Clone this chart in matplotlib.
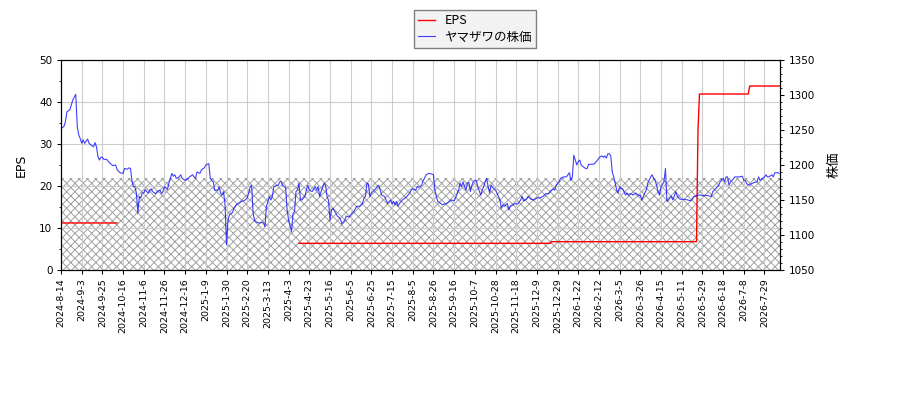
import numpy as np
import matplotlib
matplotlib.use("Agg")
import matplotlib.pyplot as plt
from matplotlib.ticker import MultipleLocator

plt.rcParams['font.family'] = ['DejaVu Sans', 'Noto Sans CJK JP']
plt.rcParams['hatch.color'] = '#a0a0a0'
plt.rcParams['hatch.linewidth'] = 0.7

# ---- data ----
tick_labels = [
    "2024-8-14", "2024-9-3", "2024-9-25", "2024-10-16", "2024-11-6", "2024-11-26",
    "2024-12-16", "2025-1-9", "2025-1-30", "2025-2-20", "2025-3-13", "2025-4-3",
    "2025-4-23", "2025-5-16", "2025-6-5", "2025-6-25", "2025-7-15", "2025-8-5",
    "2025-8-26", "2025-9-16", "2025-10-7", "2025-10-28", "2025-11-18", "2025-12-9",
    "2025-12-29", "2026-1-22", "2026-2-12", "2026-3-5", "2026-3-26", "2026-4-15",
    "2026-5-11", "2026-5-29", "2026-6-18", "2026-7-8", "2026-7-29",
]
tick_step = 14  # trading days between labelled ticks

eps_day = [0, 38, 39, 161, 331, 332, 430, 431, 432, 465, 466, 486]
eps_value = [11.2, 11.2, np.nan, 6.35, 6.35, 6.74, 6.74, 33.0, 41.9, 41.9, 43.8, 43.8]

hatch_level = 22.0

price_day = [
    0, 2, 3, 4, 6, 7, 8, 10, 11, 12, 13, 14, 15, 16, 18, 19, 20, 22, 23, 24,
    25, 26, 27, 28, 29, 31, 32, 34, 35, 37, 38, 40, 42, 43, 45, 46, 47, 48, 49, 50,
    51, 52, 53, 54, 55, 56, 57, 58, 59, 60, 61, 62, 64, 65, 67, 68, 69, 70, 72, 73,
    74, 75, 76, 77, 78, 80, 81, 82, 84, 86, 87, 89, 90, 91, 92, 94, 95, 97, 98, 100,
    101, 102, 103, 104, 106, 107, 108, 109, 110, 111, 112, 113, 114, 116, 117, 119, 121, 122, 124, 126,
    127, 128, 129, 130, 131, 132, 134, 136, 137, 138, 139, 140, 141, 142, 143, 144, 146, 147,
    148, 149, 150, 151, 152, 153, 154, 156, 157, 158, 159, 160, 161, 162, 163, 165, 166, 167, 168, 170,
    171, 172, 173, 174, 175, 176, 178, 179, 180, 181, 182, 183, 184, 186, 187, 189, 190, 192, 193, 195,
    197, 198, 200, 202, 204, 205, 206, 207, 208, 209, 210, 212, 214, 215, 216, 217, 219, 220, 221, 223,
    224, 225, 226, 227, 228, 229, 231, 233, 234, 236, 237, 238, 240, 241, 242, 244, 245, 246, 247, 249,
    251, 252, 253, 254, 255, 257, 258, 259, 261, 263, 264, 266, 267, 269, 270, 271, 272, 273, 274, 275,
    276, 277, 278, 279, 280, 281, 282, 284, 285, 286, 287, 288, 289, 290, 291, 292, 294, 295, 297, 298,
    299, 300, 302, 303, 304, 306, 307, 309, 311, 312, 313, 315, 316, 318, 320, 322, 324, 326, 328, 330,
    331, 333, 334, 335, 337, 338, 340, 342, 343, 344, 345, 346, 347, 348, 349, 350, 351, 352, 353, 355,
    356, 357, 359, 360, 361, 363, 364, 365, 366, 367, 368, 369, 370, 371, 372, 373, 374, 375, 376, 377,
    378, 379, 380, 382, 383, 384, 385, 386, 387, 389, 391, 392, 393, 394, 395, 396, 397, 399, 400, 401,
    402, 403, 404, 405, 406, 408, 409, 410, 411, 412, 413, 414, 416, 417, 418, 419, 421, 422, 424, 426,
    427, 428, 430, 431, 433, 435, 436, 438, 440, 441, 443, 445, 446, 448, 449, 450, 451, 452, 453, 454,
    456, 458, 459, 461, 462, 463, 464, 466, 467, 469, 471, 472, 473, 474, 476, 477, 478, 479, 481, 482,
    483, 484, 485, 486,
]
price_yen = [
    1252, 1255, 1262, 1276, 1279, 1286, 1293, 1301, 1255, 1243, 1238, 1231, 1236, 1231, 1237, 1231, 1229, 1226, 1232, 1226,
    1212, 1207, 1211, 1211, 1208, 1208, 1205, 1201, 1199, 1200, 1193, 1189, 1188, 1195, 1194, 1196, 1195, 1178, 1169, 1169,
    1160, 1131, 1155, 1153, 1160, 1160, 1165, 1162, 1160, 1164, 1166, 1162, 1159, 1162, 1164, 1159, 1162, 1169, 1165, 1174,
    1181, 1188, 1184, 1186, 1181, 1183, 1186, 1181, 1178, 1181, 1183, 1186, 1183, 1181, 1190, 1188, 1193, 1196, 1200, 1202,
    1181, 1178, 1176, 1164, 1164, 1169, 1160, 1157, 1162, 1143, 1086, 1121, 1129, 1132, 1138, 1144, 1146, 1148, 1149, 1153,
    1160, 1169, 1171, 1131, 1121, 1119, 1117, 1118, 1117, 1112, 1141, 1148, 1155, 1150, 1155, 1169, 1171, 1171,
    1176, 1176, 1171, 1169, 1168, 1136, 1121, 1105, 1131, 1133, 1162, 1164, 1174, 1150, 1150, 1155, 1164, 1171, 1164, 1162,
    1166, 1169, 1164, 1169, 1155, 1162, 1174, 1171, 1155, 1150, 1121, 1136, 1138, 1131, 1127, 1123, 1116, 1121, 1127, 1126,
    1131, 1133, 1141, 1141, 1145, 1153, 1155, 1174, 1173, 1155, 1160, 1164, 1169, 1171, 1164, 1157, 1155, 1150, 1145, 1150,
    1144, 1148, 1143, 1148, 1141, 1145, 1150, 1153, 1155, 1160, 1164, 1166, 1164, 1169, 1168, 1171, 1178, 1181, 1186, 1188,
    1187, 1186, 1164, 1155, 1148, 1145, 1143, 1144, 1145, 1148, 1150, 1149, 1153, 1164, 1174, 1169, 1176, 1169, 1164, 1174,
    1175, 1162, 1171, 1176, 1178, 1178, 1169, 1157, 1164, 1169, 1176, 1181, 1169, 1160, 1171, 1168, 1164, 1160, 1150, 1138,
    1143, 1141, 1145, 1136, 1141, 1143, 1145, 1144, 1150, 1155, 1149, 1151, 1155, 1151, 1150, 1153, 1153, 1155, 1159, 1159,
    1162, 1166, 1164, 1171, 1176, 1181, 1183, 1183, 1186, 1189, 1178, 1183, 1214, 1207, 1200, 1205, 1207, 1200, 1198, 1195,
    1195, 1201, 1201, 1201, 1202, 1207, 1210, 1212, 1213, 1211, 1213, 1210, 1216, 1216, 1213, 1190, 1183, 1174, 1164, 1160,
    1169, 1166, 1166, 1157, 1160, 1157, 1159, 1159, 1157, 1160, 1156, 1157, 1150, 1155, 1160, 1164, 1174, 1183, 1186, 1181,
    1178, 1171, 1162, 1157, 1169, 1176, 1195, 1148, 1150, 1153, 1155, 1150, 1162, 1155, 1153, 1151, 1151, 1151, 1150, 1149,
    1151, 1155, 1156, 1157, 1157, 1156, 1157, 1156, 1155, 1162, 1166, 1171, 1176, 1181, 1176, 1183, 1183, 1171, 1176, 1178,
    1183, 1183, 1183, 1184, 1178, 1178, 1173, 1171, 1173, 1175, 1176, 1183, 1178, 1180, 1183, 1186, 1183, 1183, 1186, 1183,
    1189, 1189, 1189, 1188,
]

eps_label = "EPS"
price_label = "ヤマザワの株価"
price_axis_label = "株価"

# ---- figure ----
fig = plt.figure(figsize=(9, 4), dpi=100)
ax1 = fig.add_axes([61 / 900, 130 / 400, 719 / 900, 210 / 400])
ax2 = ax1.twinx()

x_end = price_day[-1] + 0.5
ax1.fill_between([0, x_end], 0, hatch_level, facecolor='white',
                 edgecolor='#a0a0a0', hatch='xxxx', linewidth=0)
l1, = ax1.plot(eps_day, eps_value, color='red', lw=1.0, label=eps_label)
l2, = ax2.plot(price_day, price_yen, color='blue', lw=0.8, alpha=0.75, label=price_label)

ax1.set_xlim(0, x_end)
ax1.set_ylim(0, 50)
ax2.set_ylim(1050, 1350)

ticks = [i * tick_step for i in range(len(tick_labels))]
ax1.set_xticks(ticks)
ax1.set_xticklabels(tick_labels, rotation=90, fontsize=6.8)
ax1.yaxis.set_major_locator(MultipleLocator(10))
ax1.yaxis.set_minor_locator(MultipleLocator(5))
ax2.yaxis.set_major_locator(MultipleLocator(50))
ax2.yaxis.set_minor_locator(MultipleLocator(10))

for ax in (ax1, ax2):
    ax.tick_params(axis='both', which='major', length=2.7, width=0.75, labelsize=7.5)
    ax.tick_params(axis='both', which='minor', length=1.6, width=0.6)
ax1.tick_params(axis='x', labelsize=6.8)

ax1.grid(True, color='#cccccc', linewidth=0.8)
ax1.set_ylabel(eps_label, fontsize=9, labelpad=8)
ax2.set_ylabel(price_axis_label, fontsize=9.5, labelpad=9,
               family=['Noto Sans CJK JP', 'DejaVu Sans'])

fig.legend(handles=[l1, l2], loc='upper center', bbox_to_anchor=(0.528, 0.975),
           borderaxespad=0, fancybox=False, facecolor='#f2f2f2', edgecolor='#808080',
           framealpha=1, handlelength=1.3, labelspacing=0.25, borderpad=0.35,
           prop={'family': ['Noto Sans CJK JP', 'DejaVu Sans'], 'size': 9})

fig.savefig("out.png", dpi=100)
